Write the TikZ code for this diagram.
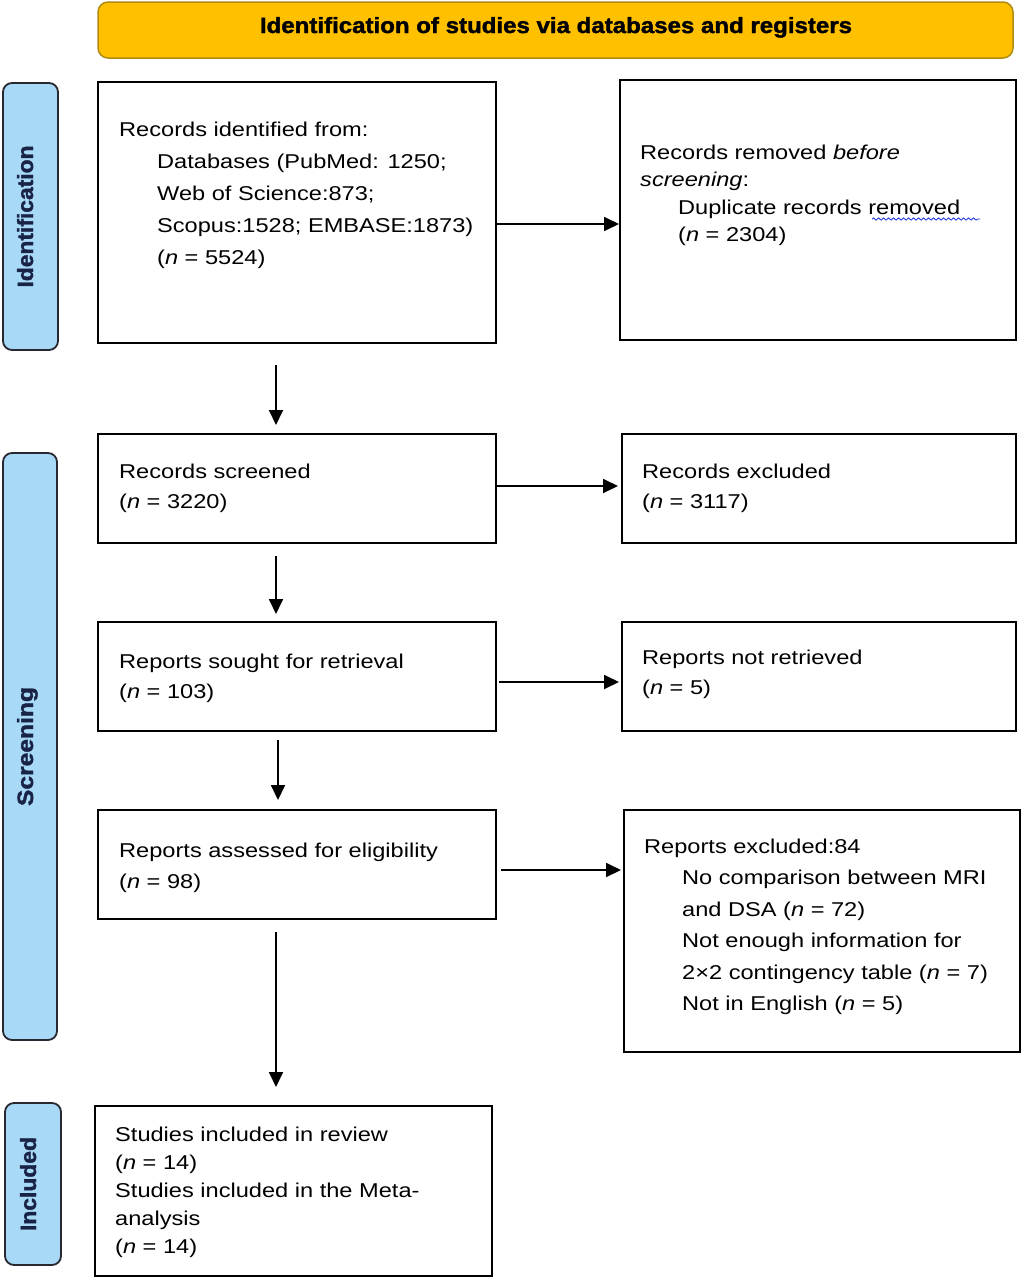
\documentclass[tikz,border=0pt]{standalone}
\usepackage{graphicx}
\usepackage{fontspec}
\setmainfont{Liberation Sans}[FakeStretch=1.18]
\newfontfamily\labelfont{Liberation Sans}[BoldFeatures={FakeBold=1.6}]
\usetikzlibrary{arrows.meta,decorations.pathmorphing}
\definecolor{bannerfill}{RGB}{255,192,0}
\definecolor{bannerdraw}{RGB}{176,140,20}
\definecolor{sidefill}{RGB}{168,218,248}
\definecolor{sidedraw}{RGB}{40,40,48}
\definecolor{sidetext}{RGB}{25,35,70}
\definecolor{spellblue}{RGB}{40,60,220}
\begin{document}
\begin{tikzpicture}[x=1pt,y=-1pt,
  box/.style={draw=black, line width=1.8pt, inner sep=0pt, outer sep=0pt},
  side/.style={draw=sidedraw, fill=sidefill, line width=1.8pt, rounded corners=9pt, inner sep=0pt},
  banner/.style={draw=bannerdraw, fill=bannerfill, line width=1.5pt, rounded corners=10pt, inner sep=0pt},
  txt/.style={anchor=north west, align=left, inner sep=0pt, font=\fontsize{20}{#1}\selectfont},
  txt/.default=30,
  sidelabel/.style={rotate=90, anchor=base, inner sep=0pt, text=sidetext},
  arr/.style={line width=1.8pt, -{Triangle[length=15pt,width=14pt]}},
  spell/.style={draw=spellblue, line width=0.9pt, decorate, decoration={snake, amplitude=1.1pt, segment length=5pt}}
]
\useasboundingbox (0,0) rectangle (1022,1280);

% banner
\node[banner, minimum width=915pt, minimum height=56pt] (ban) at (555.5,30) {};
\node[anchor=base, inner sep=0pt] (bantxt) at (556,33) {\resizebox{592pt}{16pt}{\labelfont\bfseries Identification of studies via databases and registers}};

% side labels
\node[side, minimum width=55pt, minimum height=267pt] (sid) at (30.5,216.5) {};
\node[sidelabel] (sidt) at (33,216.5) {\resizebox{142pt}{16pt}{\labelfont\bfseries Identification}};
\node[side, minimum width=54pt, minimum height=587pt] (sscr) at (30,746.5) {};
\node[sidelabel] (sscrt) at (33,746.5) {\resizebox{119pt}{16pt}{\labelfont\bfseries Screening}};
\node[side, minimum width=56pt, minimum height=162pt] (sinc) at (33,1184) {};
\node[sidelabel] (sinct) at (36,1184) {\resizebox{94pt}{16pt}{\labelfont\bfseries Included}};

% boxes
\node[box, minimum width=398pt, minimum height=261pt] (b1) at (297,212.5) {};
\node[box, minimum width=396pt, minimum height=260pt] (rem) at (818,210) {};
\node[box, minimum width=398pt, minimum height=109pt] (b2) at (297,488.5) {};
\node[box, minimum width=394pt, minimum height=109pt] (exc) at (819,488.5) {};
\node[box, minimum width=398pt, minimum height=109pt] (b3) at (297,676.5) {};
\node[box, minimum width=394pt, minimum height=109pt] (nre) at (819,676.5) {};
\node[box, minimum width=398pt, minimum height=109pt] (b4) at (297,864.5) {};
\node[box, minimum width=396pt, minimum height=242pt] (rex) at (822,931) {};
\node[box, minimum width=397pt, minimum height=170pt] (b5) at (293.5,1191) {};

% texts (top = first baseline - 14.6)
\node[txt=32] (t1) at (119,121.4) {Records identified from:\\\hspace*{38pt}Databases (PubMed: 1250;\\\hspace*{38pt}Web of Science:873;\\\hspace*{38pt}Scopus:1528; EMBASE:1873)\\\hspace*{38pt}(\textit{n} = 5524)};
\node[txt=27.5] (trem) at (640,144.4) {Records removed \textit{before}\\\textit{screening}:\\\hspace*{38pt}Duplicate records removed\\\hspace*{38pt}(\textit{n} = 2304)};
\coordinate (sp1) at (872,219);
\coordinate (sp2) at (980,219);
\draw[spell] (sp1) -- (sp2);
\node[txt=30] (t2) at (119,463.4) {Records screened\\(\textit{n} = 3220)};
\node[txt=30] (texc) at (642,463.4) {Records excluded\\(\textit{n} = 3117)};
\node[txt=30] (t3) at (119,653.4) {Reports sought for retrieval\\(\textit{n} = 103)};
\node[txt=30] (tnre) at (642,649.4) {Reports not retrieved\\(\textit{n} = 5)};
\node[txt=31] (t4) at (119,842.4) {Reports assessed for eligibility\\(\textit{n} = 98)};
\node[txt=31.5] (trex) at (644,838.4) {Reports excluded:84\\\hspace*{38pt}No comparison between MRI\\\hspace*{38pt}and DSA (\textit{n} = 72)\\\hspace*{38pt}Not enough information for\\\hspace*{38pt}2×2 contingency table (\textit{n} = 7)\\\hspace*{38pt}Not in English (\textit{n} = 5)};
\node[txt=28] (t5) at (115,1126.4) {Studies included in review\\(\textit{n} = 14)\\Studies included in the Meta-\\analysis\\(\textit{n} = 14)};

% vertical arrows
\coordinate (cA) at (276,0);
\coordinate (cB) at (278,0);
\draw[arr, shorten <=22pt, shorten >=9pt] (b1.south -| cA) -- (b2.north -| cA);
\draw[arr, shorten <=13pt, shorten >=8pt] (b2.south -| cA) -- (b3.north -| cA);
\draw[arr, shorten <=9pt, shorten >=10pt] (b3.south -| cB) -- (b4.north -| cB);
\draw[arr, shorten <=13pt, shorten >=19pt] (b4.south -| cA) -- (b5.north -| cA);

% horizontal arrows
\coordinate (ya) at (0,224);
\coordinate (yb) at (0,486);
\coordinate (yc) at (0,682);
\coordinate (yd) at (0,870);
\draw[arr, shorten >=1pt] (b1.east |- ya) -- (rem.west |- ya);
\draw[arr, shorten >=4pt] (b2.east |- yb) -- (exc.west |- yb);
\draw[arr, shorten <=3pt, shorten >=3pt] (b3.east |- yc) -- (nre.west |- yc);
\draw[arr, shorten <=5pt, shorten >=3pt] (b4.east |- yd) -- (rex.west |- yd);
\end{tikzpicture}
\end{document}
